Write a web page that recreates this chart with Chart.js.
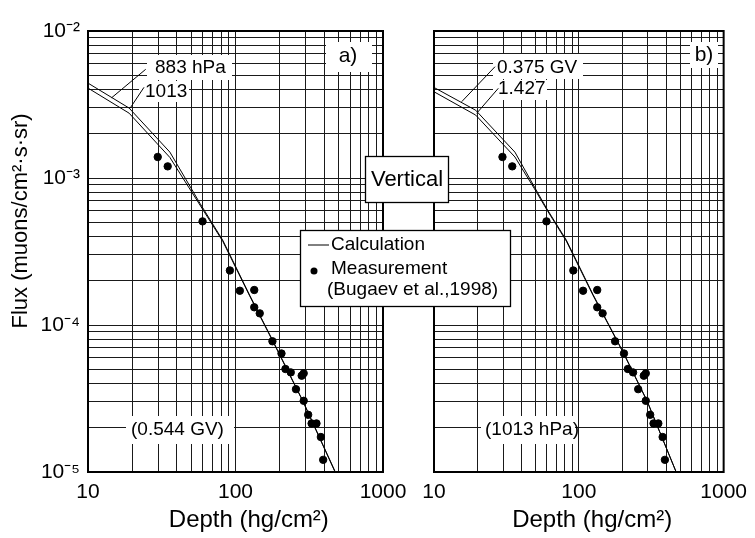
<!DOCTYPE html>
<html>
<head>
<meta charset="utf-8">
<script src="https://cdn.jsdelivr.net/npm/chart.js@4.4.0/dist/chart.umd.min.js"></script>
<style>
html,body{margin:0;padding:0;background:#fff;}
#wrap{position:relative;width:755px;height:538px;overflow:hidden;background:#fff;}
.layer{position:absolute;left:0;top:0;width:755px;height:538px;}
</style>
</head>
<body>
<div id="wrap">
  <div class="layer"><canvas id="chartA"></canvas></div>
  <div class="layer"><canvas id="chartB"></canvas></div>
</div>
<script>
// ---------- data ----------
const depthGrid = [10,20,30,40,50,60,70,80,90,100,200,300,400,500,600,700,800,900,1000];
const depthMajor = [10,100,1000];
const depthMajorLabels = ['10','100','1000'];
const fluxGrid = [1e-5,2e-5,3e-5,4e-5,5e-5,6e-5,7e-5,8e-5,9e-5,
                  1e-4,2e-4,3e-4,4e-4,5e-4,6e-4,7e-4,8e-4,9e-4,
                  1e-3,2e-3,3e-3,4e-3,5e-3,6e-3,7e-3,8e-3,9e-3,1e-2];
const fluxMajor = [1e-5,1e-4,1e-3,1e-2];
const fluxMajorLabels = ['10\u207B\u2075','10\u207B\u2074','10\u207B\u00B3','10\u207B\u00B2'];

// measurements (Bugaev et al., 1998)
const measDepth = [29.7,34.7,59.8,91.6,107,134,134,146,178,205,218,237,281,290,257,290,311,328,354,379,393];
const measFlux  = [1.39e-3,1.20e-3,5.07e-4,2.35e-4,1.71e-4,1.73e-4,1.32e-4,1.20e-4,7.75e-5,6.4e-5,5.02e-5,4.76e-5,4.52e-5,4.69e-5,3.66e-5,3.05e-5,2.45e-5,2.14e-5,2.14e-5,1.73e-5,1.21e-5];

// panel a) calculations (0.544 GV)
const calcDepthA = [10,19,35.9,57.4,82.1,125,179,286,471];
const calcA883   = [4.42e-3,2.99e-3,1.50e-3,6.73e-4,3.76e-4,1.59e-4,7.83e-5,3.05e-5,1.02e-5];
const calcA1013  = [4.09e-3,2.76e-3,1.38e-3,6.55e-4,3.70e-4,1.57e-4,7.75e-5,3.03e-5,1.01e-5];

// panel b) calculations (1013 hPa)
const calcDepthB = [10,19.4,36.2,49.4,60,82,125,205.5,296,472];
const calcB0375  = [4.13e-3,2.89e-3,1.50e-3,8.68e-4,6.2e-4,3.78e-4,1.62e-4,6.35e-5,3.05e-5,9.9e-6];
const calcB1427  = [3.86e-3,2.68e-3,1.39e-3,8.45e-4,6.1e-4,3.72e-4,1.60e-4,6.30e-5,3.03e-5,9.9e-6];

const xTitle = '    Depth (hg/cm\u00B2)';
const yTitle = '          Flux (muons/cm\u00B2\u00B7s\u00B7sr)';

// ---------- helpers ----------
const FONT = "'Liberation Sans', Arial, Helvetica, sans-serif";
Chart.defaults.font.family = FONT;
Chart.defaults.color = '#000';

const pts = (xs, ys) => xs.map((x, i) => ({x, y: ys[i]}));
const near = (a, b) => Math.abs(a - b) / b < 1e-6;

function lineDS(label, xs, ys) {
  return {type:'line', label, data: pts(xs, ys), borderColor:'#000', borderWidth:1,
          pointRadius:0, fill:false, tension:0, showLine:true};
}
function measDS() {
  return {type:'scatter', label:'Measurement', data: pts(measDepth, measFlux),
          backgroundColor:'#000', borderColor:'#000', pointRadius:3.7, showLine:false};
}

function scales(showYLabels, yWidth) {
  return {
    x: {
      type:'logarithmic', min:10, max:1000,
      afterBuildTicks: s => { s.ticks = depthGrid.map(v => ({value:v})); },
      afterFit: s => { s.height = 66; },
      ticks: {autoSkip:false, maxRotation:0, minRotation:0, padding:8, font:{size:21}, color:'#000',
        callback: v => { const i = depthMajor.findIndex(m => near(v, m)); return i >= 0 ? depthMajorLabels[i] : ''; }},
      grid: {color:'#1a1a1a', lineWidth:1, drawTicks:false},
      border: {color:'#000', width:2},
      title: {display:true, text:xTitle, font:{size:24}, color:'#000', padding:{top:0, bottom:3}}
    },
    y: {
      type:'logarithmic', min:1e-5, max:1e-2,
      afterBuildTicks: s => { s.ticks = fluxGrid.map(v => ({value:v})); },
      afterFit: s => { s.width = yWidth; },
      ticks: {display:showYLabels, autoSkip:false, padding:8, font:{size:21}, color:'#000',
        callback: v => { const i = fluxMajor.findIndex(m => near(v, m)); return i >= 0 ? fluxMajorLabels[i] : ''; }},
      grid: {color:'#1a1a1a', lineWidth:1, drawTicks:false},
      border: {color:'#000', width:2},
      title: {display:showYLabels, text:yTitle, font:{size:22}, color:'#000', padding:{top:8, bottom:0}}
    }
  };
}

function frameAndNotes(id, notes) {
  return {
    id,
    beforeDatasetsDraw(chart) {
      const {ctx, chartArea:a} = chart;
      ctx.save();
      ctx.strokeStyle = '#000'; ctx.lineWidth = 2;
      ctx.strokeRect(a.left, a.top, a.right - a.left, a.bottom - a.top);
      ctx.restore();
    },
    afterDraw(chart) {
      const ctx = chart.ctx;
      ctx.save();
      (notes.boxes || []).forEach(b => {
        ctx.fillStyle = '#fff';
        ctx.fillRect(b[0], b[1], b[2], b[3]);
        if (b[4]) { ctx.strokeStyle = '#000'; ctx.lineWidth = 1.3; ctx.strokeRect(b[0] + 0.5, b[1] + 0.5, b[2], b[3]); }
      });
      ctx.strokeStyle = '#000'; ctx.lineWidth = 1;
      (notes.leaders || []).forEach(l => {
        ctx.beginPath(); ctx.moveTo(l[0], l[1]); ctx.lineTo(l[2], l[3]); ctx.stroke();
      });
      ctx.fillStyle = '#000';
      ctx.textBaseline = 'middle';
      (notes.texts || []).forEach(t => {
        ctx.font = (t.size || 19) + 'px ' + FONT;
        ctx.textAlign = t.align || 'left';
        ctx.fillText(t.text, t.x, t.y);
      });
      (notes.dots || []).forEach(d => {
        ctx.beginPath(); ctx.arc(d[0], d[1], d[2], 0, Math.PI * 2); ctx.fill();
      });
      ctx.restore();
    }
  };
}

// ---------- panel a ----------
new Chart(document.getElementById('chartA'), {
  type:'scatter',
  data: {datasets: [
    lineDS('883 hPa', calcDepthA, calcA883),
    lineDS('1013 hPa', calcDepthA, calcA1013),
    measDS()
  ]},
  options: {
    responsive:true, maintainAspectRatio:false, animation:false,
    layout: {padding: {left:0, top:31, right:372, bottom:0}},
    plugins: {legend:{display:false}, tooltip:{enabled:false}},
    scales: scales(true, 88)
  },
  plugins: [frameAndNotes('notesA', {
    boxes: [[147,55,85,25],[139,81,50,21],[326,42,46,30],[126,416,108,28]],
    leaders: [[145.7,69.3,111.7,97.7],[144,87.3,130,108.3]],
    texts: [
      {text:'883 hPa', x:155, y:68, size:19},
      {text:'1013', x:145, y:92, size:19},
      {text:'a)', x:348, y:56, size:21, align:'center'},
      {text:'(0.544 GV)', x:131, y:430, size:19}
    ]
  })]
});

// ---------- panel b ----------
new Chart(document.getElementById('chartB'), {
  type:'scatter',
  data: {datasets: [
    lineDS('0.375 GV', calcDepthB, calcB0375),
    lineDS('1.427 GV', calcDepthB, calcB1427),
    measDS()
  ]},
  options: {
    responsive:true, maintainAspectRatio:false, animation:false,
    layout: {padding: {left:434, top:31, right:25, bottom:0}},
    plugins: {legend:{display:false}, tooltip:{enabled:false}},
    scales: scales(false, 0)
  },
  plugins: [frameAndNotes('notesB', {
    boxes: [[493,54,90,25],[493,80,54,20],[690,42,28,26],[481,416,94,28],
            [365,156,83,46,true],[300,230,210,76,true]],
    leaders: [[495,66.7,461.7,101.7],[498.3,88.3,476.7,113.3],[308,245,329,245]],
    texts: [
      {text:'0.375 GV', x:497, y:68, size:19},
      {text:'1.427', x:498, y:89, size:19},
      {text:'b)', x:704, y:55, size:21, align:'center'},
      {text:'(1013 hPa)', x:485, y:430, size:19},
      {text:'Vertical', x:407, y:180, size:22, align:'center'},
      {text:'Calculation', x:331, y:245, size:19},
      {text:'Measurement', x:331, y:269, size:19},
      {text:'(Bugaev et al.,1998)', x:327, y:290, size:19}
    ],
    dots: [[314,271,3.5]]
  })]
});
</script>
</body>
</html>
